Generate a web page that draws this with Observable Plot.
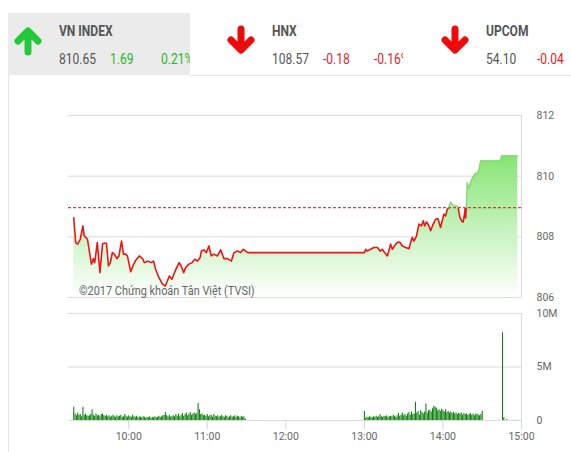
<!DOCTYPE html>
<html><head><meta charset="utf-8">
<script src="https://cdn.jsdelivr.net/npm/d3@7"></script>
<script src="https://cdn.jsdelivr.net/npm/@observablehq/plot@0.6"></script>
<style>
html,body{margin:0;padding:0}
body{width:571px;height:452px;overflow:hidden;background:#fff;font-family:Roboto,sans-serif;position:relative}
.cell{position:absolute;top:13px;height:62px;width:182px;overflow:hidden}
.cell.active{background:#ebebeb}
.cell svg.arrow{position:absolute;left:5px;top:15px;overflow:visible}
.t{position:absolute;white-space:nowrap;font-size:14px;line-height:14px;transform:scaleX(.86);transform-origin:left top;color:#555}
.name{top:11px;left:51px;font-weight:bold}
.val{top:38.5px;left:51px}
.chg{top:38.5px;left:102px}
.pct{top:38.5px;left:153px}
.up{color:#27b52b}
.down{color:#e41e1e}
#hline{position:absolute;top:75px;left:190px;right:0;height:1px;background:#e4e4e4;z-index:5}
#vline{position:absolute;top:75px;left:8px;bottom:0;width:1px;background:#e4e4e4;z-index:5}
#price{position:absolute;left:0;top:100px;width:571px;height:201px;overflow:hidden}
#volume{position:absolute;left:0;top:301px;width:571px;height:151px;overflow:hidden;background:#fff}
#credit{position:absolute;left:79px;top:284px;font-size:13px;line-height:13px;color:#666;white-space:nowrap;transform:scaleX(.84);transform-origin:left top}
</style></head>
<body>
<div id="header"></div>
<div id="price"></div>
<div id="volume"></div>
<div id="credit">©2017 Chứng khoán Tân Việt (TVSI)</div>
<div id="hline"></div><div id="vline"></div>
<script>
// ---------- header data ----------
const indexNames = ["VN INDEX", "HNX", "UPCOM"];
const indexValues = ["810.65", "108.57", "54.10"];
const indexChanges = ["1.69", "-0.18", "-0.04"];
const indexPercents = ["0.21%", "-0.16%", "-0.07%"];
const indexLeft = [8, 221, 435];

// ---------- price data ----------
const priceTimes = [
"09:18","09:19:30","09:21","09:23","09:25","09:26","09:28:30","09:31:30","09:33","09:34",
"09:36","09:38","09:40","09:41","09:43","09:44:30","09:46","09:47:30","09:49","09:51",
"09:52:30","09:54:30","09:56","09:57:30","09:59","10:01:30","10:03:30","10:05","10:08","10:10:30",
"10:12","10:14:45","10:17","10:19","10:20:30","10:23","10:25:45","10:28","10:31","10:33",
"10:36","10:38:30","10:40","10:42","10:43:30","10:46","10:48:30","10:50:30","10:52:30","10:54:30",
"10:55:30","10:57:30","10:59:15","11:01:15","11:03","11:05","11:07:45","11:10:15","11:12:45","11:15:20",
"11:18:25","11:20:25","11:23","11:25:30","11:27:35","11:29:20","11:31","13:00","13:01","13:02",
"13:04:45","13:07:15","13:10","13:12","13:13:40","13:15:25","13:17:30","13:18:40","13:20","13:21:20",
"13:23","13:25","13:27","13:29","13:31:30","13:34","13:35:20","13:36:35","13:37:50","13:39:50",
"13:41:40","13:43:30","13:45","13:46","13:47:30","13:49:20","13:50:35","13:52:35","13:54:25","13:56:10",
"13:58:10","14:00:45","14:02","14:03:20","14:04:30","14:05:50","14:07:50","14:09:40","14:11:25","14:13",
"14:14:45","14:15:30","14:16:30","14:17","14:17:20","14:17:50","14:18:35","14:19:50","14:21:05","14:23:10",
"14:25","14:26:15","14:27:25","14:28:45","14:44","14:44:45","14:57:10"
];
const priceValues = [
808.63,807.81,807.76,807.92,808.36,808.03,807.92,807.10,807.28,807.15,
807.81,806.82,807.76,807.79,807.79,807.04,807.15,807.48,807.43,807.28,
807.37,807.86,807.43,807.43,807.37,806.85,807.07,807.20,807.37,807.28,
807.15,807.20,807.15,807.20,806.93,806.66,806.44,806.38,806.71,806.60,
806.93,807.15,807.04,806.82,806.99,807.10,807.15,807.26,807.20,807.31,
807.53,807.57,807.48,807.70,807.37,807.43,807.37,807.57,807.28,807.28,
807.20,807.48,807.53,807.48,807.59,807.53,807.48,807.48,807.59,807.53,
807.59,807.65,807.65,807.53,807.59,807.48,807.37,807.53,807.76,807.59,
807.70,807.81,807.83,807.70,807.65,807.61,807.81,807.98,807.86,808.03,
808.42,808.36,808.53,808.36,808.49,808.36,808.20,808.42,808.58,808.60,
808.31,808.75,808.69,808.91,808.97,809.15,809.02,809.02,809.00,808.63,
808.49,808.49,808.75,808.97,808.62,808.96,809.79,809.59,809.79,809.99,
810.10,810.07,810.18,810.50,810.50,810.67,810.67
];
const refValue = 808.96;
const priceTicks = [806, 808, 810, 812];

// ---------- volume data (millions of shares per minute) ----------
const volMorningStart = "09:18";
const volMorning = [
1.25,0.6,0.45,0.7,0.5,0.55,0.35,1.25,0.5,0.6,0.45,0.4,
0.45,0.55,1.0,0.5,0.4,0.6,0.45,0.5,0.35,0.55,
0.6,0.45,0.4,0.5,0.35,0.45,0.3,0.4,0.5,0.35,
0.3,0.45,0.35,0.4,0.5,0.3,0.35,0.55,0.4,0.3,
0.45,0.35,0.3,0.5,0.35,0.3,0.4,0.25,0.35,0.3,
0.25,0.35,0.3,0.2,0.3,0.25,0.35,0.2,0.3,0.25,
0.35,0.25,0.3,0.4,0.3,0.35,0.45,0.5,0.75,0.45,
0.35,0.5,0.3,0.4,0.45,0.35,0.55,0.4,0.6,0.35,
0.5,0.65,0.4,0.55,0.7,0.45,0.6,0.75,0.5,0.6,
0.7,0.55,0.65,1.6,1.0,0.55,0.6,0.45,0.5,0.4,
0.55,0.35,0.45,0.5,0.3,0.55,0.4,0.35,0.45,0.3,
0.4,0.5,0.35,0.3,0.45,0.4,0.25,0.35,0.45,0.3,
0.35,0.45,0.3,0.4,0.35,0.25,0.4,0.3,0.35,0.15
];
const volAfternoonStart = "13:00";
const volAfternoon = [
0.85,0.2,0.3,0.25,0.35,0.3,0.25,0.35,0.3,0.4,
0.3,0.35,0.55,0.35,0.3,0.4,0.35,0.45,0.3,0.35,
0.4,0.35,0.5,0.4,0.3,0.45,0.65,0.4,0.5,0.7,
0.45,0.55,0.4,0.6,0.75,0.5,0.8,0.55,0.6,1.7,
0.7,0.85,0.5,0.9,0.75,0.6,0.8,1.55,0.7,0.9,
0.95,0.8,1.1,1.3,1.25,1.15,0.9,1.0,0.85,1.05,
0.9,0.8,1.0,0.75,0.85,0.7,0.8,0.65,0.75,0.6,
0.7,0.55,0.65,0.6,0.7,0.5,0.65,0.55,0.6,0.5,
0.55,0.65,0.5,0.6,0.45,0.55,0.6,0.5,0.45,0.55,
0.85
];
const atcTimes = ["14:45:30", "14:46:30", "14:48:45", "14:55"];
const atcVolumes = [8.2, 0.25, 0.1, 0.03];
const volTicks = [0, 5, 10];
const volTickLabels = ["0", "5M", "10M"];
const hourTicks = ["10:00", "11:00", "12:00", "13:00", "14:00", "15:00"];
const xDomain = ["09:14", "15:00"];

// ---------- helpers ----------
const toH = s => { const [h, m, sec = 0] = s.split(":").map(Number); return h + m / 60 + sec / 3600; };
const domainX = xDomain.map(toH);
const xEnd = domainX[1];

// ---------- header ----------
const upArrow = '<svg class="arrow" width="30" height="26"><path d="M15,24 L15,4 M5,13 L15,3 L25,13" fill="none" stroke="#22c83a" stroke-width="7" stroke-linecap="round" stroke-linejoin="round"/></svg>';
const downArrow = '<svg class="arrow" width="30" height="26"><path d="M15,1 L15,21 M5,12 L15,22 L25,12" fill="none" stroke="#ee0a0a" stroke-width="7" stroke-linecap="round" stroke-linejoin="round"/></svg>';
const header = document.getElementById("header");
indexNames.forEach((n, i) => {
  const isUp = !indexChanges[i].startsWith("-");
  const c = document.createElement("div");
  c.className = "cell" + (i === 0 ? " active" : "");
  c.style.left = indexLeft[i] + "px";
  if (i === 2) c.style.width = (571 - indexLeft[i]) + "px";
  c.innerHTML = (isUp ? upArrow : downArrow) +
    `<div class="t name">${n}</div>` +
    `<div class="t val">${indexValues[i]}</div>` +
    `<div class="t chg ${isUp ? "up" : "down"}">${indexChanges[i]}</div>` +
    `<div class="t pct ${isUp ? "up" : "down"}">${indexPercents[i]}</div>`;
  header.appendChild(c);
});

// ---------- price chart ----------
const price = priceTimes.map((t, i) => ({t: toH(t), v: priceValues[i]}));
const gridColor = "#dadada";
const priceChart = Plot.plot({
  width: 571, height: 201,
  marginLeft: 68, marginRight: 50, marginTop: 15, marginBottom: 4,
  x: {domain: domainX, axis: null},
  y: {domain: [806, 812], axis: null},
  style: {fontFamily: "Roboto, sans-serif", fontSize: "10.5px", background: "transparent"},
  marks: [
    Plot.ruleY(priceTicks, {stroke: gridColor}),
    Plot.ruleX([xEnd], {stroke: gridColor}),
    Plot.areaY(price, {x: "t", y1: 806, y2: "v", fill: "url(#priceGrad)", curve: "linear"}),
    Plot.ruleY([refValue], {stroke: "#c41818", strokeDasharray: "3,2", strokeWidth: 1}),
    Plot.line(price, {x: "t", y: "v", stroke: "#86d971", strokeWidth: 1.3}),
    Plot.line(price, {x: "t", y: "v", stroke: "#ec1515", strokeWidth: 1.6}),
    Plot.text(priceTicks, {x: xEnd, y: d => d, text: d => String(d), textAnchor: "start", dx: 15, fill: "#666"})
  ]
});
document.getElementById("price").appendChild(priceChart);
{
  const ys = priceChart.scale("y");
  const yRef = ys.apply(refValue);
  const ns = "http://www.w3.org/2000/svg";
  const defs = document.createElementNS(ns, "defs");
  defs.innerHTML =
    `<linearGradient id="priceGrad" x1="0" y1="0" x2="0" y2="1">` +
    `<stop offset="0" stop-color="rgb(134,228,116)"/>` +
    `<stop offset="1" stop-color="rgb(255,255,255)"/></linearGradient>` +
    `<clipPath id="belowRef" clipPathUnits="userSpaceOnUse"><rect x="0" y="${yRef}" width="571" height="400"/></clipPath>` +
    `<clipPath id="aboveRef" clipPathUnits="userSpaceOnUse"><rect x="0" y="-50" width="571" height="${yRef + 50}"/></clipPath>`;
  priceChart.insertBefore(defs, priceChart.firstChild);
  const lines = priceChart.querySelectorAll('g[aria-label="line"]');
  if (lines.length >= 2) {
    lines[0].setAttribute("clip-path", "url(#aboveRef)");
    lines[1].setAttribute("clip-path", "url(#belowRef)");
  }
}

// ---------- volume chart ----------
const vol = [];
const ms = toH(volMorningStart), as = toH(volAfternoonStart);
volMorning.forEach((v, i) => vol.push({t: ms + i / 60, v}));
volAfternoon.forEach((v, i) => vol.push({t: as + i / 60, v}));
atcTimes.forEach((t, i) => vol.push({t: toH(t), v: atcVolumes[i]}));
const hours = hourTicks.map(toH);

const volChart = Plot.plot({
  width: 571, height: 151,
  marginLeft: 68, marginRight: 50, marginTop: 12, marginBottom: 32,
  x: {domain: domainX, axis: null},
  y: {domain: [0, 10], axis: null},
  style: {fontFamily: "Roboto, sans-serif", fontSize: "10.5px", background: "transparent"},
  marks: [
    Plot.ruleY(volTicks, {stroke: gridColor}),
    Plot.ruleX([xEnd], {y1: 0, y2: 10, stroke: gridColor}),
    Plot.ruleX(hours, {y1: 0, y2: 0, insetBottom: -9, stroke: "#ccd6eb"}),
    Plot.ruleX(vol, {x: "t", y1: 0, y2: "v", stroke: "#0c7f0c", strokeWidth: 1.05}),
    Plot.text(hours, {x: d => d, y: 0, dy: 16, text: (d, i) => hourTicks[i], fill: "#666"}),
    Plot.text(volTicks, {x: xEnd, y: d => d, text: (d, i) => volTickLabels[i], textAnchor: "start", dx: 15, fill: "#666"})
  ]
});
document.getElementById("volume").appendChild(volChart);
</script>
</body></html>
